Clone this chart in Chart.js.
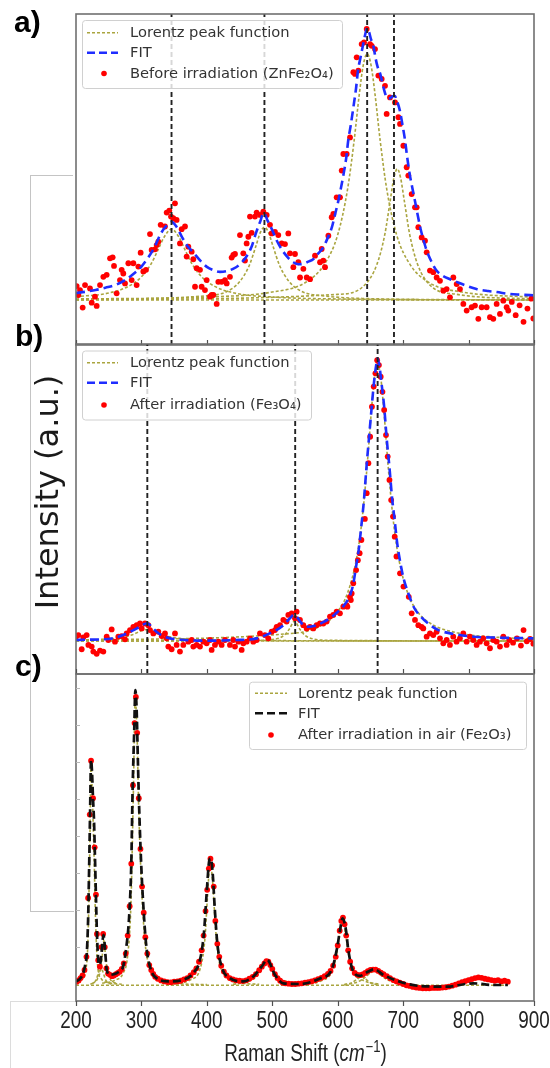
<!DOCTYPE html>
<html lang="en">
<head>
<meta charset="UTF-8">
<title>Raman spectra - Lorentz fits</title>
<script src="https://cdn.jsdelivr.net/npm/chart.js"></script>
<style>
  body { margin: 0; background: #fff; }
  #page { position: relative; width: 550px; height: 1068px; overflow: hidden; font-family: "DejaVu Sans", sans-serif; }
  canvas { position: absolute; left: 0; }
  .tag { position: absolute; font: bold 30px "Liberation Sans", Arial, sans-serif; line-height: 30px; color: #000; }
  #ylab { position: absolute; left: -83px; top: 472px; width: 260px; height: 40px; line-height: 40px;
          text-align: center; font-size: 32px; color: #1a1a1a; transform: rotate(-90deg); white-space: nowrap; }
  .edge { position: absolute; background: #c4c4c4; }
  .light { background: #dcdcdc; }
</style>
</head>
<body>
<div id="page">
  <div class="edge" style="left:30px;top:175px;width:1px;height:737px"></div>
  <div class="edge" style="left:30px;top:175px;width:43px;height:1px"></div>
  <div class="edge" style="left:30px;top:911px;width:44px;height:1px"></div>
  <div class="edge light" style="left:10px;top:1001px;width:66px;height:1px"></div>
  <div class="edge light" style="left:10px;top:1001px;width:1px;height:67px"></div>
  <canvas id="cvA" width="550" height="360" style="top:0"></canvas>
  <canvas id="cvB" width="550" height="360" style="top:330px"></canvas>
  <canvas id="cvC" width="550" height="408" style="top:660px"></canvas>
  <div class="tag" style="left:14px;top:7px">a)</div>
  <div class="tag" style="left:15px;top:321px">b)</div>
  <div class="tag" style="left:15px;top:651px">c)</div>
  <div id="ylab">Intensity (a.u.)</div>
</div>

<script>
// ---- shared axis ----
const xTicks = [200, 300, 400, 500, 600, 700, 800, 900];
const cYTicks = [16.6, 27.9, 39.2, 50.5, 61.8, 73.1, 84.4, 95.7];

// ---- panel a: before irradiation (ZnFe2O4) ----
const peaksA = [346, 488, 645, 686];
const dataAX = [201,203.6,206.1,210.2,213.8,221.4,224,229,231.6,236.7,241.8,246.9,252,256,258.1,262.1,267.2,269.8,272.3,274.9,
  280,285.1,287.6,292.7,295.3,298.8,302.9,307,313.1,315.6,320.7,323.3,325.8,329.4,336,338.6,342.6,345.2,348.7,351.3,
  353.8,358.9,361.5,366.6,369.1,371.7,376.8,379.3,381.9,384.4,389.5,392,397.1,399.7,404.8,407.3,409.9,415,417.5,422.6,
  427.7,430.3,435.3,437.9,440.4,443,450.6,455.7,458.3,460.8,463.4,465.9,468.5,473.5,476.1,481.2,486.3,491.4,496.5,499,
  504.1,509.2,514.3,519.4,524.5,527,
  532.2,534.7,539.8,542.4,547.5,552.6,557.7,565.3,573,575.5,578,580.6,585.7,590.8,593.3,598.4,603.5,606.1,608.6,613.7,
  618.8,623.9,626.4,629,631.5,636.6,640.2,644.3,649.4,651.9,657,662.1,667.2,672.3,674.8,679.9,687.6,692.7,695.2,700.3,
  705.4,707.9,713,718.1,720.7,723.2,728.3,733.4,736,741,746.1,751.2,756.3,761.4,766.5,771.6,776.7,781.8,786.9,792,
  797.1,804.7,809.8,814.9,820,827.6,832.7,837.8,842.9,848,853.1,858.2,860.7,866,872,878,884,890,896,899];
const dataAY = [17.8,15.1,16.6,11.3,18.1,17.1,12.8,14.6,11.8,18.1,20.6,21.2,26.2,26.5,23.9,15.6,19.6,22.7,21.6,18.6,
  24.7,19.6,24.7,18.1,23.7,27.9,22.2,22.7,33.5,28.7,28.9,30.2,31.2,36.3,35.8,40.0,40.6,38.8,38.3,42.8,
  37.8,30.7,35.0,35.8,26.7,29.7,28.2,25.9,17.6,23.2,22.7,17.6,16.6,19.6,14.6,15.1,15.1,12.4,19.1,19.1,
  19.6,18.6,20.6,26.4,27.2,27.5,33.2,27.7,25.5,30.7,32.7,38.8,33.9,38.8,40.0,39.3,40.3,39.3,36.3,33.7,
  34.2,33.2,30.7,30.5,33.7,27.7,
  23.5,27.5,25.0,20.4,23.0,20.4,19.9,27.0,25.0,29.0,25.5,23.5,33.0,38.6,39.6,44.6,44.6,52.7,57.7,57.7,
  62.7,82.4,81.9,86.9,82.9,90.9,91.4,95.5,90.9,90.4,89.4,81.4,80.4,78.3,69.8,74.8,73.3,68.8,66.8,60.2,
  53.7,51.2,45.6,41.6,41.6,35.6,32.5,31.5,28.0,22.5,22.0,20.4,19.4,16.4,16.9,14.4,20.4,18.4,16.9,12.4,
  10.4,11.4,11.9,7.9,11.4,11.4,8.4,7.9,12.4,9.4,13.4,11.4,10.4,13,9,12,7,11,14,8];
const fitAX = [200,215,230,245,260,275,290,300,310,320,330,338,346,354,362,370,380,390,400,410,
  420,430,440,450,460,468,475,481,487,493,500,507,515,525,532,540,547,555,563,570,
  578,585,591,596,601,605,609,613,616,620,624,628,631,635,639,642,645,648,651,654,
  658,661,665,668,671,675,679,683,687,691,695,699,703,706,710,714,718,722,726,731,
  736,743,751,760,770,780,795,812,830,843,863,880,900];
const fitAY = [15.7,16.1,16.6,17.3,18.1,19.6,21.8,23.7,26.3,29.6,33.8,36.0,37.2,35.6,32.6,30.0,27.8,25.5,23.6,22.6,
  22.1,22.3,23.0,24.3,26.6,29.5,33.8,37.0,39.9,37.5,34.7,31.5,28.7,26.2,25.0,24.4,24.5,25.2,26.0,27.6,
  29.5,32.5,35.5,39.5,43.6,47.5,51.7,56.5,61.7,66.5,71.9,77.5,82.9,87.0,90.9,93.8,95.7,94.5,92.3,90.9,
  86.5,84.0,81.9,79.5,77.0,74.8,74.5,75.0,75.3,73.5,70.8,66.5,61.7,57.0,51.7,47.5,43.6,39.5,35.6,31.8,
  28.5,25.3,22.5,21.0,20.0,19.2,18.0,16.9,16.3,16.0,15.4,15.2,15.0];
const lorA0X = [200, 900], lorA0Y = [13.6, 13.6];
const lorA1X = [200,250,280,300,315,325,335,346,357,367,377,392,412,442,500,600,900];
const lorA1Y = [14.6,15.7,17.7,20.6,24.6,28.6,32.7,35.0,32.7,28.6,24.6,20.6,17.7,15.7,14.5,13.9,13.6];
const lorA2X = [200,400,430,450,465,475,482,488,494,501,511,526,546,576,650,900];
const lorA2Y = [13.7,14.9,16.1,19.1,24.1,29.9,34.1,35.6,34.1,29.9,24.1,19.1,16.1,14.9,14.0,13.6];
const lorA3X = [200,400,500,550,580,600,615,625,633,639,645,651,657,665,675,690,710,740,790,900];
const lorA3Y = [13.9,14.5,16.0,18.8,24.5,33.3,47.0,61.6,75.8,84.5,88.0,84.5,75.8,61.6,47.0,33.3,24.5,18.8,16.0,14.4];
const lorA4X = [200,600,640,660,672,680,686,691,696,702,710,722,742,782,900];
const lorA4Y = [13.7,15.3,17.9,24.4,33.4,43.3,50.6,53.2,50.6,43.3,33.4,24.4,17.9,15.3,13.9];

// ---- panel b: after irradiation (Fe3O4) ----
const peaksB = [309, 535, 661];
const dataBX = [200,203.6,208.7,211.2,216.3,218.9,224,226.5,231.6,236.7,241.8,246.9,249.4,254.5,259.6,264.7,269.8,274.9,277.4,282.5,
  287.6,292.7,297.8,300.4,305.4,310.5,313.1,318.2,325.8,330.9,336,338.6,341.1,346.2,351.3,353.8,358.9,364,371.7,376.8,
  379.3,384.4,389.5,394.6,399.7,404.8,407.3,412.4,417.5,422.6,427.7,435.3,440.4,443,448.1,453.2,455.7,460.8,465.9,471,
  476.1,481.2,488.8,493.9,499,504.1,506.7,511.8,516.9,521.9,524.5,529.6,534.7,537.2,542.3,547.4,552.5,557.6,562.7,567.8,
  572.9,578,583.1,588.2,593.2,598.3,603.4,608.5,613.6,614.8,618.7,620.1,621.3,623.8,628.1,630.8,633.5,636.2,641.5,644.3,
  646.9,649.6,652.3,655,657.6,660.3,663,665.7,668.4,671,673.8,676.4,679.1,681.7,684.5,687.1,689.8,695.2,700.5,708.6,
  713,718.1,723.2,728.2,730.8,735.9,741,746.1,751.2,756.3,761.4,766.5,771.5,776.6,781.7,786.8,791.9,797,802.1,807.2,
  812.3,817.4,822.5,827.6,832.7,837.8,842.9,848,853.1,858.2,862.2,868,874,880,884,889,894,899];
const dataBY = [11.3,11.8,7.5,11.1,11.8,8.8,8.3,6.8,6.1,7.1,6.8,11.3,10.3,13.5,9.8,11.3,11.5,10.5,12.3,13.3,
  14.3,14.8,15.3,13.8,15.3,14.8,13.3,12.3,12.8,11.5,12.3,10.8,8.3,7.5,12.3,8.8,6.8,8.8,9.8,10.3,
  8.3,8.8,8.3,9.8,9.3,10.3,7.3,8.8,9.8,8.8,10.3,8.8,10.3,8.3,9.8,7.3,9.3,9.8,10.8,9.8,
  10.3,12.3,11.8,10.8,12.8,13.3,14.3,14.8,16.4,15.9,17.9,18.4,16.9,18.9,16.4,14.8,13.8,14.3,13.8,14.8,
  15.3,15.3,15.9,17.4,17.9,18.9,18.4,20.4,20.9,20.4,23.4,22.4,24.4,27.5,31.5,34.5,36.6,40.6,47.0,54.8,
  63.9,71.9,81.0,87.1,91.1,95.1,93.6,90.1,85.5,80.0,72.4,65.9,58.8,52.7,47.7,41.6,35.6,30.5,26.5,23.4,
  18.4,16.4,14.8,14.3,13.8,11.3,12.3,11.8,12.8,10.8,9.3,10.3,8.8,11.3,9.8,10.8,12.3,9.8,11.3,10.3,
  8.8,9.8,10.8,9.3,7.8,10.3,9.8,8.3,11.3,8.8,10.3,9.5,10.8,8.6,13.3,9.9,10.6,9.2];
const fitBX = [200,220,242,260,272,285,293,301,309,316,323,333,344,360,395,445,476,496,507,517,
  527,533,538,543,548,553,560,568,578,588,598,608,615,620,624,628,632,636,640,644,
  648,652,655,658,661,664,667,671,675,679,683,687,691,695,700,708,717,727,740,754,
  775,808,850,900];
const fitBY = [10.3,10.4,10.5,11.0,11.8,13.0,13.8,14.8,15.4,14.2,12.8,11.5,10.8,10.4,10.1,10.3,10.8,12.3,13.4,14.8,
  16.9,17.9,17.2,15.8,14.8,14.3,14.4,14.8,15.7,16.9,18.5,20.4,22.3,24.5,27.5,32.5,37.5,44.6,52.5,62.8,
  72.0,81.0,87.5,92.5,95.7,93.0,88.0,81.0,71.0,62.8,53.5,46.7,39.5,34.5,29.5,24.4,20.0,17.4,15.0,13.3,
  12.2,11.3,11.0,10.8];
const lorB0X = [200, 900], lorB0Y = [10.0, 10.0];
const lorB1X = [200,260,285,300,309,318,333,358,420,900];
const lorB1Y = [10.2,10.8,11.8,13.1,13.5,13.1,11.8,10.8,10.2,10.0];
const lorB2X = [200,480,505,518,526,534,542,550,563,590,900];
const lorB2Y = [10.0,10.2,10.6,11.7,13.6,16.0,13.6,11.7,10.6,10.2,10.0];
const lorB3X = [200,540,580,600,615,628,636,644,652,656,661,666,670,678,686,694,707,722,742,782,840,900];
const lorB3Y = [10.3,12.5,15.3,18.9,24.5,34.2,44.7,60.8,81.0,89.5,94.0,89.5,81.0,60.8,44.7,34.2,24.5,18.9,15.3,12.5,11.2,10.6];

// ---- panel c: after irradiation in air (Fe2O3) ----
const dataCX = [201,204,207,210,213,216,218.5,221,223,226,228.5,230.5,232,234,236.5,239,241.5,244,246.5,249,
  252,255,258,261,264,267,270,273,276,279,282,284.5,287,289.5,291.5,293.5,296,298.5,301,303.5,
  306,309,312,315,318,321,325,330,335,340,345,350,355,360,365,370,375,380,384,388,
  392,395,398,400.5,403,405.5,408,410.5,413,416,419,422,426,430,435,440,445,450,455,460,
  465,470,475,480,484,488,491,494,497,500,504,508,512,516,520,525,530,535,540,545,
  550,555,560,565,570,575,580,585,589,593,597,600,603,605.5,608,610.5,613,616,619,622,
  626,630,634,638,642,646,650,654,658,662,666,670,675,680,685,690,695,700,705,710,
  715,720,725,730,735,740,745,750,755,760,765,770,775,780,785,790,795,800,805,810,
  815,820,825,830,835,840,845,850,855,860];
const dataCY = [5.9,6.3,7.0,7.8,9.5,13.5,31.5,57,73.5,62,47,32.5,20.5,12.5,10.5,16.5,20.5,16.5,10.0,8.4,
  8.0,7.6,7.8,8.2,8.6,9.0,9.8,11.5,14.5,20.0,29.0,42.0,66.0,85.0,93.0,82.0,62.0,46.5,35.0,27.0,
  19.5,14.5,11.0,9.5,8.3,7.4,6.8,6.3,6.0,5.8,5.7,5.9,6.0,6.2,6.6,7.0,7.8,8.8,10.0,12.0,
  15.5,20.0,27.5,34.0,40.5,43.5,41.5,35.0,24.5,17.5,13.5,10.8,9.0,7.8,7.0,6.6,6.3,6.2,6.1,6.3,
  6.8,7.4,8.2,9.4,10.5,11.5,12.2,12.0,11.0,9.8,8.2,7.0,6.2,5.6,5.4,5.3,5.2,5.2,5.3,5.4,
  5.6,5.8,6.0,6.3,6.7,7.1,7.6,8.3,9.2,10.8,13.5,17.0,21.5,24.5,25.5,23.5,20.0,15.5,12.0,10.0,
  8.6,8.0,7.9,8.1,8.6,9.1,9.5,9.6,9.6,9.2,8.7,8.2,7.6,7.0,6.4,6.0,5.6,5.2,4.8,4.6,
  4.3,4.1,4.0,3.9,3.9,3.9,4.0,4.0,4.0,4.1,4.2,4.4,4.7,5.0,5.4,5.8,6.1,6.4,6.7,7.0,
  7.2,7.1,6.8,6.6,6.4,6.2,6.4,6.0,6.2,5.9];
const fitCX = [200,207,211,214,216.5,218.5,220,221.5,223,224.5,226,227.5,229,230.5,232,234,236,238,240,242,
  243.5,245,247,252,262,268,272,277,281.5,284.5,286.5,289,290.7,292.7,294.7,296.8,299.8,303,307,313,
  323,343,364,379,389.5,395.5,399.7,403.8,405.8,408.9,411.9,416,422.6,435,455.7,471,483.7,492.4,504,517,
  542,573,590.7,599.4,603.5,607.5,612.6,616.2,622.8,634,646.8,655.9,669.7,695,725.7,766.5,807,838,860];
const fitCY = [5.9,7.0,8.5,11.0,14.6,25.0,40.0,57.4,73.7,70.0,62.0,55.4,44.0,32.0,20.7,12.6,11.0,12.5,17.0,20.2,
  18.0,14.0,9.5,8.0,8.5,9.3,10.5,16.6,26.8,42.1,64.5,82.9,95.1,89.0,72.7,57.4,41.1,28.9,17.7,10.5,
  7.0,6.0,6.5,8.5,12.6,20.7,33.0,43.1,43.6,39.1,28.9,17.7,10.5,7.0,6.0,7.5,10.5,12.6,8.0,5.4,
  5.2,6.9,9.5,16.6,21.7,25.3,21.7,15.6,9.5,7.7,9.0,9.7,8.0,5.9,4.6,4.4,5.4,4.9,4.9];
const lorC0X = [200, 860], lorC0Y = [4.8, 4.8];
const lorC1X = [200,210,215,218.5,221.5,223,224.5,227.5,230,233,238,250,270];
const lorC1Y = [5.6,6.9,9.5,20,53,73.5,66,45,24,11,7,5.6,5.1];
const lorC2X = [222,230,235,238,241,246,255];
const lorC2Y = [5.1,6.2,9.0,10.5,9.0,6.2,5.1];
const lorC3X = [225,233,238,241,242.5,244,247,252,262];
const lorC3Y = [5.3,6.8,10,15.5,18.5,16,10.5,6.8,5.3];
const lorC4X = [240,260,272,279,284,287.5,290.5,293,296,300,305,312,325,350,400];
const lorC4Y = [5.4,6.4,8.5,14,30,62,92,84,58,36,19,10.5,6.6,5.4,5.0];
const lorC5X = [350,375,390,397,401,405,409,413,418,428,450,480];
const lorC5Y = [5.2,6.5,10,19,32,42.5,36,23,13,7.8,5.6,5.1];
const lorC6X = [440,462,476,485,492,499,508,522,545];
const lorC6Y = [5.1,5.9,7.5,10,12.2,10,7.5,5.9,5.1];
const lorC7X = [550,575,590,598,603,607.5,612,617,625,640,665];
const lorC7Y = [5.1,6.2,8.6,14,20.5,25,20.5,14,8.6,6.2,5.1];
const lorC8X = [610,622,630,636,642,650,662];
const lorC8Y = [4.9,5.6,6.8,7.6,6.8,5.6,4.9];
const lorC9X = [610,630,642,650,656,662,670,685,710];
const lorC9Y = [5.0,5.8,7.2,8.6,9.2,8.6,7.2,5.8,5.0];

// ---- styles ----
const OLIVE = '#aaa540', BLUE = '#1f2dff', RED = '#ff0000';

const pts = (xs, ys) => xs.map((x, i) => ({ x, y: ys[i] }));
const curve = (xs, ys, color, width, dash, order) => ({
  data: pts(xs, ys), showLine: true, borderColor: color, borderWidth: width, borderDash: dash,
  pointRadius: 0, fill: false, cubicInterpolationMode: 'monotone', order
});
const lor = (xs, ys) => curve(xs, ys, OLIVE, 1.6, [3, 2], 4);
const dots = (xs, ys) => ({
  data: pts(xs, ys), showLine: false, pointRadius: 2.9, pointBackgroundColor: RED,
  pointBorderWidth: 0, order: 3
});
const vline = x => ({
  data: [{ x, y: 0 }, { x, y: 100 }], showLine: true, borderColor: '#222', borderWidth: 1.9,
  borderDash: [5, 3], pointRadius: 0, order: 1
});

// frame, ticks, legend and (panel c) axis text
function decor(cfg) {
  return {
    id: 'decor',
    afterDraw(chart) {
      const { ctx, chartArea: a, scales: { x, y } } = chart;
      ctx.save();
      ctx.strokeStyle = '#707070';
      ctx.lineWidth = 1.6;
      ctx.strokeRect(a.left, a.top, a.right - a.left, a.bottom - a.top);

      ctx.strokeStyle = '#505050';
      ctx.lineWidth = 1.2;
      xTicks.forEach(v => {
        const px = Math.round(x.getPixelForValue(v)) + 0.5;
        ctx.beginPath();
        ctx.moveTo(px, a.bottom);
        ctx.lineTo(px, cfg.outTicks ? a.bottom + 5 : a.bottom - 5);
        ctx.stroke();
      });
      if (cfg.yTicks) {
        ctx.strokeStyle = '#b8b8b8';
        ctx.lineWidth = 1;
        cfg.yTicks.forEach(v => {
          const py = Math.round(y.getPixelForValue(v)) + 0.5;
          ctx.beginPath();
          ctx.moveTo(a.left, py);
          ctx.lineTo(a.left + 4, py);
          ctx.stroke();
        });
      }

      // legend
      const L = cfg.legend;
      ctx.fillStyle = 'rgba(255,255,255,0.82)';
      ctx.strokeStyle = '#d0d0d0';
      ctx.lineWidth = 1;
      ctx.beginPath();
      ctx.roundRect(L.x + 0.5, L.y + 0.5, L.w, L.h, 3);
      ctx.fill();
      ctx.stroke();
      L.items.forEach((it, i) => {
        const ry = L.rows[i];
        if (it.kind === 'line') {
          ctx.strokeStyle = it.color;
          ctx.lineWidth = it.width;
          ctx.setLineDash(it.dash);
          ctx.beginPath();
          ctx.moveTo(L.s0, ry);
          ctx.lineTo(L.s1, ry);
          ctx.stroke();
          ctx.setLineDash([]);
        } else {
          ctx.fillStyle = RED;
          ctx.beginPath();
          ctx.arc(L.dotX, ry, 2.8, 0, Math.PI * 2);
          ctx.fill();
        }
        ctx.fillStyle = '#333';
        ctx.font = '14.7px "DejaVu Sans"';
        ctx.textBaseline = 'middle';
        ctx.textAlign = 'left';
        ctx.fillText(it.label, L.textX, ry + 0.5);
      });

      if (cfg.axisText) {
        const squeeze = 0.82;
        ctx.fillStyle = '#222';
        ctx.textBaseline = 'alphabetic';
        ctx.textAlign = 'center';
        ctx.font = '23px "Liberation Sans", Arial, sans-serif';
        xTicks.forEach(v => {
          ctx.save();
          ctx.translate(x.getPixelForValue(v), cfg.tickBase);
          ctx.scale(squeeze, 1);
          ctx.fillText(String(v), 0, 0);
          ctx.restore();
        });
        const parts = [
          { t: 'Raman Shift (', f: '23px "Liberation Sans", Arial, sans-serif', dy: 0 },
          { t: 'cm', f: 'italic 23px "Liberation Sans", Arial, sans-serif', dy: 0 },
          { t: '\u22121', f: '16px "Liberation Sans", Arial, sans-serif', dy: -9 },
          { t: ')', f: '23px "Liberation Sans", Arial, sans-serif', dy: 0 }
        ];
        ctx.textAlign = 'left';
        let total = 0;
        parts.forEach(p => { ctx.font = p.f; p.w = ctx.measureText(p.t).width * squeeze; total += p.w; });
        let cx = cfg.titleX - total / 2;
        parts.forEach(p => {
          ctx.save();
          ctx.font = p.f;
          ctx.translate(cx, cfg.titleBase + p.dy);
          ctx.scale(squeeze, 1);
          ctx.fillText(p.t, 0, 0);
          ctx.restore();
          cx += p.w + (p.t === 'cm' ? 1 : 0);
        });
      }
      ctx.restore();
    }
  };
}

function makeChart(id, datasets, pad, cfg) {
  return new Chart(document.getElementById(id), {
    type: 'scatter',
    data: { datasets },
    options: {
      responsive: false,
      animation: false,
      events: [],
      layout: { padding: pad },
      scales: {
        x: { type: 'linear', min: 200, max: 900, display: false },
        y: { type: 'linear', min: 0, max: 100, display: false }
      },
      plugins: { legend: { display: false }, tooltip: { enabled: false } }
    },
    plugins: [decor(cfg)]
  });
}

const legendItems = (fitColor, dataLabel) => [
  { kind: 'line', color: OLIVE, width: 1.6, dash: [3, 2], label: 'Lorentz peak function' },
  { kind: 'line', color: fitColor, width: 2.5, dash: [8, 4], label: 'FIT' },
  { kind: 'dot', label: dataLabel }
];

// panel a
makeChart('cvA', [
  lor(lorA0X, lorA0Y), lor(lorA1X, lorA1Y), lor(lorA2X, lorA2Y), lor(lorA3X, lorA3Y), lor(lorA4X, lorA4Y),
  dots(dataAX, dataAY),
  curve(fitAX, fitAY, BLUE, 2.6, [9, 5], 2),
  ...peaksA.map(vline)
], { left: 76, right: 16, top: 14, bottom: 15 }, {
  legend: { x: 82, y: 20, w: 260, h: 68, rows: [32.7, 52.7, 73.5], s0: 87, s1: 118, dotX: 104, textX: 130,
            items: legendItems(BLUE, 'Before irradiation (ZnFe\u2082O\u2084)') }
});

// panel b
makeChart('cvB', [
  lor(lorB0X, lorB0Y), lor(lorB1X, lorB1Y), lor(lorB2X, lorB2Y), lor(lorB3X, lorB3Y),
  dots(dataBX, dataBY),
  curve(fitBX, fitBY, BLUE, 2.6, [9, 5], 2),
  ...peaksB.map(vline)
], { left: 76, right: 16, top: 14, bottom: 16 }, {
  legend: { x: 82, y: 20.5, w: 229, h: 69, rows: [32.7, 52.7, 75], s0: 87, s1: 118, dotX: 104, textX: 130,
            items: legendItems(BLUE, 'After irradiation (Fe\u2083O\u2084)') }
});

// panel c
makeChart('cvC', [
  lor(lorC0X, lorC0Y), lor(lorC1X, lorC1Y), lor(lorC2X, lorC2Y), lor(lorC3X, lorC3Y), lor(lorC4X, lorC4Y),
  lor(lorC5X, lorC5Y), lor(lorC6X, lorC6Y), lor(lorC7X, lorC7Y), lor(lorC8X, lorC8Y), lor(lorC9X, lorC9Y),
  dots(dataCX, dataCY),
  curve(fitCX, fitCY, '#111', 2.7, [8, 4], 2)
], { left: 76, right: 16, top: 14, bottom: 67 }, {
  outTicks: true,
  yTicks: cYTicks,
  axisText: true, tickBase: 368, titleX: 305, titleBase: 401,
  legend: { x: 249, y: 21.7, w: 277, h: 67.3, rows: [33.3, 53.3, 75], s0: 255, s1: 287, dotX: 271, textX: 298,
            items: legendItems('#111', 'After irradiation in air (Fe\u2082O\u2083)') }
});
</script>
</body>
</html>
